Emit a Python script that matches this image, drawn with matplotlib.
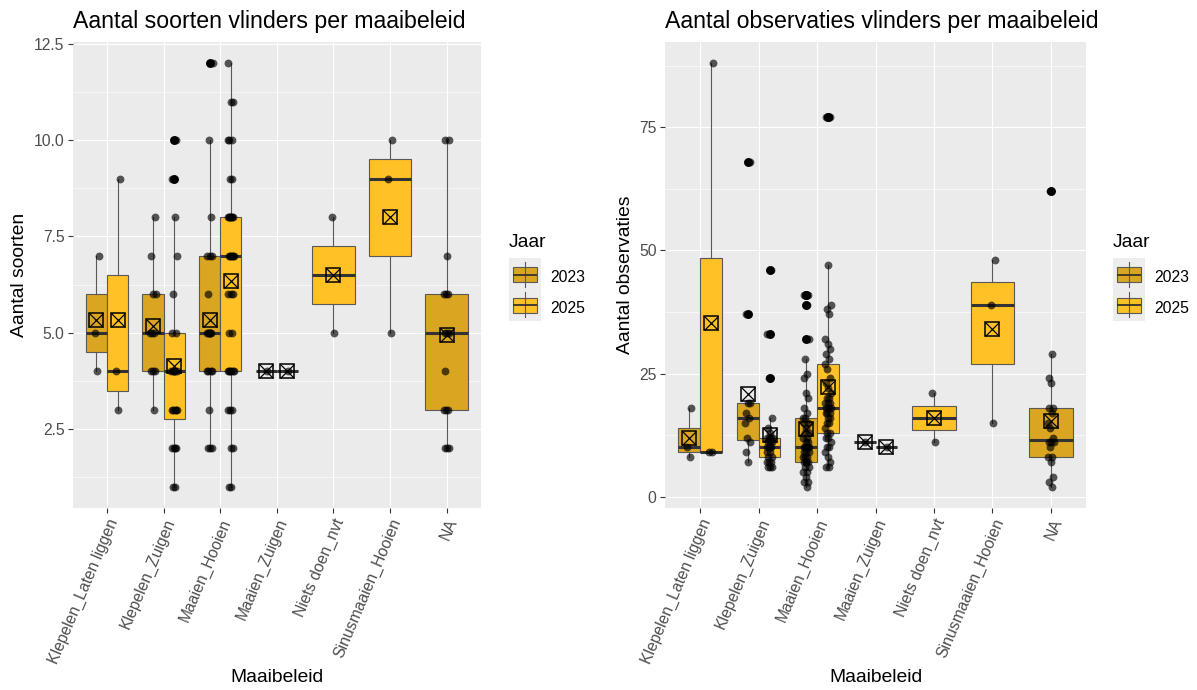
import numpy as np
import matplotlib
matplotlib.use("Agg")
import matplotlib.pyplot as plt
from matplotlib.patches import Rectangle

plt.rcParams['font.family'] = ['Liberation Sans', 'DejaVu Sans']

W, H = 1197, 690

categories = ["Klepelen_Laten liggen", "Klepelen_Zuigen", "Maaien_Hooien",
              "Maaien_Zuigen", "Niets doen_nvt", "Sinusmaaien_Hooien", "NA"]
years = ["2023", "2025"]
year_fill = {"2023": "#DAA520", "2025": "#FFC125"}

# Aantal soorten per telling
soorten_klepelen_laten_2023 = [4, 5, 7]
soorten_klepelen_laten_2025 = [3, 4, 9]
soorten_klepelen_zuigen_2023 = [3, 4, 4, 4, 5, 5, 5, 6, 6, 7, 8]
soorten_klepelen_zuigen_2025 = [1, 1, 2, 2, 2, 2, 3, 3, 3, 3, 3, 4, 4, 4, 4, 4, 4,
                                5, 5, 6, 7, 8, 9, 10]
soorten_maaien_hooien_2023 = [2, 2, 2, 3, 4, 4, 4, 4, 5, 5, 5, 5, 5, 5, 6, 7, 7, 7,
                              8, 10, 12]
soorten_maaien_hooien_2025 = [1, 1, 2, 2, 3, 3, 3, 4, 4, 4, 4, 4, 4, 5, 5, 6, 6, 6,
                              7, 7, 7, 7, 7, 7, 8, 8, 8, 8, 8, 8, 8, 9, 9, 10, 10,
                              10, 11, 11, 12]
soorten_maaien_zuigen_2023 = [4]
soorten_maaien_zuigen_2025 = [4]
soorten_niets_doen_2025 = [5, 8]
soorten_sinusmaaien_2025 = [5, 9, 10]
soorten_na_2023 = [2, 2, 2, 3, 3, 3, 4, 5, 5, 5, 6, 6, 6, 7, 10, 10]

# Aantal observaties per telling
obs_klepelen_laten_2023 = [8, 10, 18]
obs_klepelen_laten_2025 = [9, 9, 88]
obs_klepelen_zuigen_2023 = [7, 9, 11, 12, 15, 16, 17, 19, 19, 37, 68]
obs_klepelen_zuigen_2025 = [6, 6, 6, 7, 7, 7, 8, 8, 9, 9, 10, 10, 10, 10, 11, 11,
                            11, 12, 12, 12, 12, 13, 14, 16, 24, 33, 46]
obs_maaien_hooien_2023 = [2, 3, 3, 4, 5, 5, 6, 6, 7, 7, 7, 7, 8, 8, 8, 9, 9, 9, 10,
                          10, 10, 10, 10, 11, 11, 12, 12, 13, 13, 14, 15, 15, 16,
                          16, 17, 18, 20, 21, 24, 25, 28, 32, 39, 41, 41]
obs_maaien_hooien_2025 = [6, 6, 7, 8, 9, 10, 10, 11, 12, 12, 13, 13, 14, 15, 15, 16,
                          16, 17, 17, 17, 18, 18, 18, 19, 19, 19, 20, 20, 21, 22,
                          23, 24, 26, 27, 28, 29, 30, 31, 32, 37, 38, 39, 47, 77, 77]
obs_maaien_zuigen_2023 = [11]
obs_maaien_zuigen_2025 = [10]
obs_niets_doen_2025 = [11, 21]
obs_sinusmaaien_2025 = [15, 39, 48]
obs_na_2023 = [2, 3, 4, 7, 8, 8, 10, 11, 11, 11, 12, 14, 15, 17, 18, 18, 23, 24, 29, 62]

soorten = {
    ("Klepelen_Laten liggen", "2023"): soorten_klepelen_laten_2023,
    ("Klepelen_Laten liggen", "2025"): soorten_klepelen_laten_2025,
    ("Klepelen_Zuigen", "2023"): soorten_klepelen_zuigen_2023,
    ("Klepelen_Zuigen", "2025"): soorten_klepelen_zuigen_2025,
    ("Maaien_Hooien", "2023"): soorten_maaien_hooien_2023,
    ("Maaien_Hooien", "2025"): soorten_maaien_hooien_2025,
    ("Maaien_Zuigen", "2023"): soorten_maaien_zuigen_2023,
    ("Maaien_Zuigen", "2025"): soorten_maaien_zuigen_2025,
    ("Niets doen_nvt", "2025"): soorten_niets_doen_2025,
    ("Sinusmaaien_Hooien", "2025"): soorten_sinusmaaien_2025,
    ("NA", "2023"): soorten_na_2023,
}
observaties = {
    ("Klepelen_Laten liggen", "2023"): obs_klepelen_laten_2023,
    ("Klepelen_Laten liggen", "2025"): obs_klepelen_laten_2025,
    ("Klepelen_Zuigen", "2023"): obs_klepelen_zuigen_2023,
    ("Klepelen_Zuigen", "2025"): obs_klepelen_zuigen_2025,
    ("Maaien_Hooien", "2023"): obs_maaien_hooien_2023,
    ("Maaien_Hooien", "2025"): obs_maaien_hooien_2025,
    ("Maaien_Zuigen", "2023"): obs_maaien_zuigen_2023,
    ("Maaien_Zuigen", "2025"): obs_maaien_zuigen_2025,
    ("Niets doen_nvt", "2025"): obs_niets_doen_2025,
    ("Sinusmaaien_Hooien", "2025"): obs_sinusmaaien_2025,
    ("NA", "2023"): obs_na_2023,
}

EDGE = "#595959"
PANEL_BG = "#EBEBEB"


def spread_offsets(n, half_width=0.055):
    # deterministic horizontal spread (golden-ratio sequence) for overlapping points
    k = np.arange(1, n + 1)
    return half_width * (2 * ((k * 0.6180339887) % 1.0) - 1)


def draw_panel(ax, data, ylim, yticks, ylabels, yminor):
    ax.set_facecolor(PANEL_BG)
    for s in ax.spines.values():
        s.set_visible(False)
    ax.set_xlim(-0.6, len(categories) - 0.4)
    ax.set_ylim(*ylim)
    ax.set_yticks(yticks)
    ax.set_yticklabels(ylabels)
    ax.set_yticks(yminor, minor=True)
    ax.set_xticks(range(len(categories)))
    ax.set_xticklabels(categories, rotation=67, ha='right', va='top',
                       rotation_mode='anchor')
    ax.grid(True, which='major', color='white', lw=0.85)
    ax.grid(True, which='minor', axis='y', color='white', lw=0.45)
    ax.set_axisbelow(True)
    ax.tick_params(which='major', length=3.5, width=0.8, color='#333333',
                   labelcolor='#4D4D4D', labelsize=11.3, pad=2.6)
    ax.tick_params(which='minor', length=0)

    for i, cat in enumerate(categories):
        present = [y for y in years if (cat, y) in data]
        if len(present) == 2:
            offs, width = [-0.1875, 0.1875], 0.375
        else:
            offs, width = [0.0], 0.75
        for yr, off in zip(present, offs):
            vals = np.asarray(data[(cat, yr)], dtype=float)
            pos = i + off
            ax.boxplot([vals], positions=[pos], widths=width, patch_artist=True,
                       showcaps=False, manage_ticks=False, whis=1.5,
                       boxprops=dict(facecolor=year_fill[yr], edgecolor=EDGE,
                                     linewidth=0.8),
                       medianprops=dict(color='#333333', linewidth=2.2,
                                        solid_capstyle='butt'),
                       whiskerprops=dict(color=EDGE, linewidth=0.8),
                       flierprops=dict(marker='o', markerfacecolor='black',
                                       markeredgecolor='black', markersize=5.4,
                                       linestyle='none'),
                       zorder=3)
            ax.scatter(pos + spread_offsets(len(vals)), vals, s=32, color='black',
                       alpha=0.65, linewidths=0, zorder=4)
            m = vals.mean()
            ax.plot([pos], [m], marker='s', ms=9.6, mfc='none', mec='black',
                    mew=1.1, ls='none', zorder=5)
            ax.plot([pos], [m], marker='x', ms=9.6, mec='black', mew=0.9,
                    ls='none', zorder=5)


fig = plt.figure(figsize=(W / 100, H / 100), dpi=100)


def px_axes(x0, y0, x1, y1, **kw):
    return fig.add_axes([x0 / W, 1 - y1 / H, (x1 - x0) / W, (y1 - y0) / H], **kw)


ax1 = px_axes(73, 42, 480.5, 508)
draw_panel(ax1, soorten, (0.45, 12.55), [2.5, 5.0, 7.5, 10.0, 12.5],
           ["2.5", "5.0", "7.5", "10.0", "12.5"], [1.25, 3.75, 6.25, 8.75, 11.25])

ax2 = px_axes(665, 42, 1086, 508)
draw_panel(ax2, observaties, (-2.3, 92.3), [0, 25, 50, 75],
           ["0", "25", "50", "75"], [12.5, 37.5, 62.5, 87.5])

# overlay in pixel coordinates for titles, axis titles and legends
ov = fig.add_axes([0, 0, 1, 1], zorder=10)
ov.set_xlim(0, W)
ov.set_ylim(H, 0)
ov.set_facecolor('none')
ov.axis('off')

panels = [
    dict(x0=73, x1=480.5, title="Aantal soorten vlinders per maaibeleid",
         ylab="Aantal soorten", ylab_x=20, leg_x=509),
    dict(x0=665, x1=1086, title="Aantal observaties vlinders per maaibeleid",
         ylab="Aantal observaties", ylab_x=625, leg_x=1113),
]

for p in panels:
    ov.text(p["x0"], 28.3, p["title"], fontsize=16.7, ha='left', va='baseline',
            color='black')
    ov.text(p["ylab_x"], 275, p["ylab"], fontsize=13.9, rotation=90,
            ha='center', va='center', color='black')
    ov.text((p["x0"] + p["x1"]) / 2, 678, "Maaibeleid", fontsize=13.9,
            ha='center', va='center', color='black')

    lx = p["leg_x"]
    ov.text(lx, 246.7, "Jaar", fontsize=13.9, ha='left', va='baseline',
            color='black')
    ov.add_patch(Rectangle((lx, 257.7), 31.5, 63, facecolor='#EDEDED',
                           edgecolor='none'))
    for k, yr in enumerate(years):
        cy = 274.8 + 30.5 * k
        cx = lx + 16
        ov.plot([cx, cx], [cy - 13, cy + 12], color=EDGE, lw=0.8)
        ov.add_patch(Rectangle((cx - 12, cy - 7.5), 24, 15,
                               facecolor=year_fill[yr], edgecolor=EDGE, lw=0.8))
        ov.plot([cx - 12, cx + 12], [cy, cy], color='#333333', lw=1.3,
                solid_capstyle='butt')
        ov.text(lx + 41, 281.7 + 31 * k, yr, fontsize=11.3, ha='left',
                va='baseline', color='black')

fig.savefig("out.png", dpi=100)
